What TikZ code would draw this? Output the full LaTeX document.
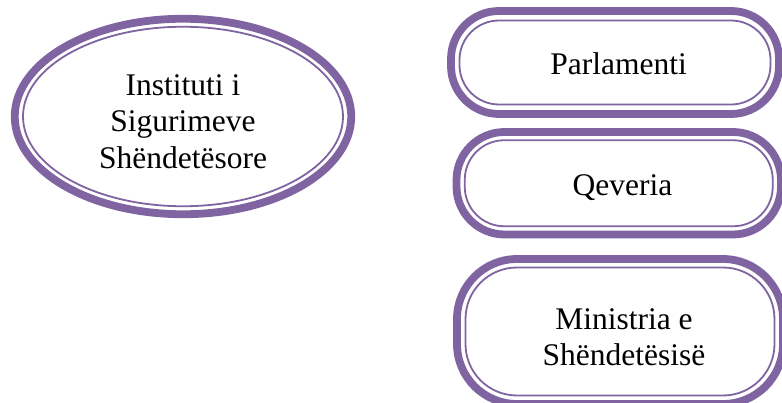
\documentclass[tikz,border=0pt]{standalone}
\usepackage{fontspec}
\setmainfont{Liberation Serif}
\usetikzlibrary{shapes.geometric}
\definecolor{vio}{RGB}{128,100,162}
\newcommand{\rrpath}[2]{([xshift=#2]#1.north west) -- ([xshift=-#2]#1.north east) arc[start angle=90,end angle=0,radius=#2] -- ([yshift=#2]#1.south east) arc[start angle=0,end angle=-90,radius=#2] -- ([xshift=#2]#1.south west) arc[start angle=270,end angle=180,radius=#2] -- ([yshift=-#2]#1.north west) arc[start angle=180,end angle=90,radius=#2] -- cycle}
\begin{document}
\begin{tikzpicture}[x=1pt,y=-1pt,
  holder/.style={rectangle, inner sep=0pt, outer sep=0pt},
  outerline/.style={draw=vio, line width=7.8pt, inner sep=0pt, outer sep=0pt},
  innerline/.style={draw=vio, line width=1.8pt, inner sep=0pt, outer sep=0pt},
  lbl/.style={font=\fontsize{31.5}{36.5}\selectfont, align=center, inner sep=0pt, text=black}]
\useasboundingbox[fill=white] (0,0) rectangle (782,403);
% ellipse
\node[outerline, ellipse, minimum width=336.5pt, minimum height=195.5pt] (isi) at (183,116.5) {};
\node[innerline, ellipse, minimum width=320pt, minimum height=179.5pt] (isiIn) at (isi.center) {};
\node[lbl, anchor=base] (isiT) at (183,168.3) {Instituti i\\Sigurimeve\\Shëndetësore};
% Parlamenti
\node[holder, minimum width=328pt, minimum height=103pt] (par) at (615,62.5) {};
\node[holder, minimum width=311pt, minimum height=84pt] (parIn) at (par.center) {};
\draw[outerline] \rrpath{par}{48pt};
\draw[innerline] \rrpath{parIn}{39.5pt};
\node[lbl, anchor=base] (parT) at (618.5,75) {Parlamenti};
% Qeveria
\node[holder, minimum width=324.5pt, minimum height=102.5pt] (qev) at (618.75,183.25) {};
\node[holder, minimum width=308pt, minimum height=86pt] (qevIn) at (qev.center) {};
\draw[outerline] \rrpath{qev}{48pt};
\draw[innerline] \rrpath{qevIn}{39.5pt};
\node[lbl, anchor=base] (qevT) at (622.5,195.5) {Qeveria};
% Ministria
\node[holder, minimum width=326pt, minimum height=145pt] (min) at (620,331.5) {};
\node[holder, minimum width=309pt, minimum height=128pt] (minIn) at (min.center) {};
\draw[outerline] \rrpath{min}{60pt};
\draw[innerline] \rrpath{minIn}{51.5pt};
\node[lbl, anchor=base] (minT) at (624,366) {Ministria e\\Shëndetësisë};
\end{tikzpicture}
\end{document}
